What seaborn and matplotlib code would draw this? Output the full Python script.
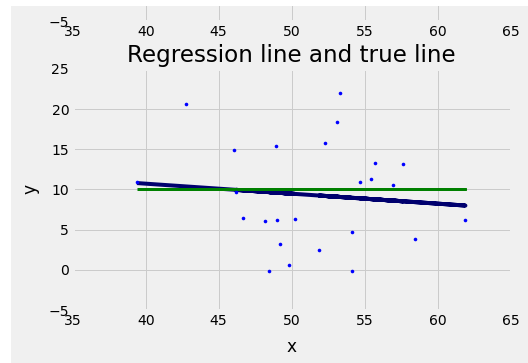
import numpy as np
import pandas as pd
import matplotlib
matplotlib.use("Agg")
import matplotlib.pyplot as plt
from matplotlib.patches import Rectangle
import seaborn as sns

plt.style.use("fivethirtyeight")

# Observed sample
x_vals = [39.4, 42.76, 46.03, 48.93, 46.19, 46.69, 48.2, 49.0, 50.2, 49.2,
          49.8, 48.45, 53.33, 53.08, 52.28, 55.73, 57.64, 54.68, 55.41, 56.92,
          61.9, 58.45, 54.1, 51.9, 54.1]
y_vals = [10.9, 20.7, 14.9, 15.37, 9.65, 6.5, 6.09, 6.2, 6.37, 3.19,
          0.62, -0.16, 21.95, 18.35, 15.74, 13.29, 13.17, 10.97, 11.26, 10.52,
          6.2, 3.89, 4.76, 2.44, -0.16]

# Fitted and true line parameters
fit_intercept = 15.70
fit_slope = -0.1244
true_intercept = 10.0
true_slope = 0.0

x_ticks = [35, 40, 45, 50, 55, 60, 65]
y_ticks = [-5, 0, 5, 10, 15, 20, 25]

df = pd.DataFrame({"x": x_vals, "y": y_vals})
df["fit"] = fit_intercept + fit_slope * df["x"]
df["true"] = true_intercept + true_slope * df["x"]

fig = plt.figure(figsize=(528 / 72, 363 / 72), dpi=72)
fig.patch.set_facecolor("#f0f0f0")

ax_left, ax_width, ax_height = 0.1377, 0.8295, 0.664


def style_axes(a):
    a.set_xlim(35, 65)
    a.set_ylim(-5, 25)
    a.set_xticks(x_ticks)
    a.set_yticks(y_ticks)
    a.tick_params(labelsize=14)


# Previous panel, mostly above the canvas
ax_prev = fig.add_axes([ax_left, 0.942, ax_width, ax_height])
style_axes(ax_prev)

ax = fig.add_axes([ax_left, 0.146, ax_width, ax_height])
sns.scatterplot(data=df, x="x", y="y", ax=ax, color="blue", s=13,
                linewidth=0, zorder=3)
ax.plot(df["x"], df["fit"], color="#00006e", linewidth=4, zorder=2,
        solid_capstyle="butt")
ax.plot(df["x"], df["true"], color="green", linewidth=3, zorder=2,
        solid_capstyle="butt")
style_axes(ax)
ax.set_title("Regression line and true line", fontsize=23, pad=7)
ax.set_xlabel("x", fontsize=17, labelpad=10)
ax.set_ylabel("y", fontsize=17, labelpad=9)

# White margin along the left and top edges
fig.patches.append(Rectangle((0, 0), 11 / 528, 1, transform=fig.transFigure,
                             facecolor="white", edgecolor="none", zorder=10))
fig.patches.append(Rectangle((0, 1 - 6 / 363), 1, 6 / 363, transform=fig.transFigure,
                             facecolor="white", edgecolor="none", zorder=10))

fig.savefig("out.png", dpi=72, facecolor="#f0f0f0")
